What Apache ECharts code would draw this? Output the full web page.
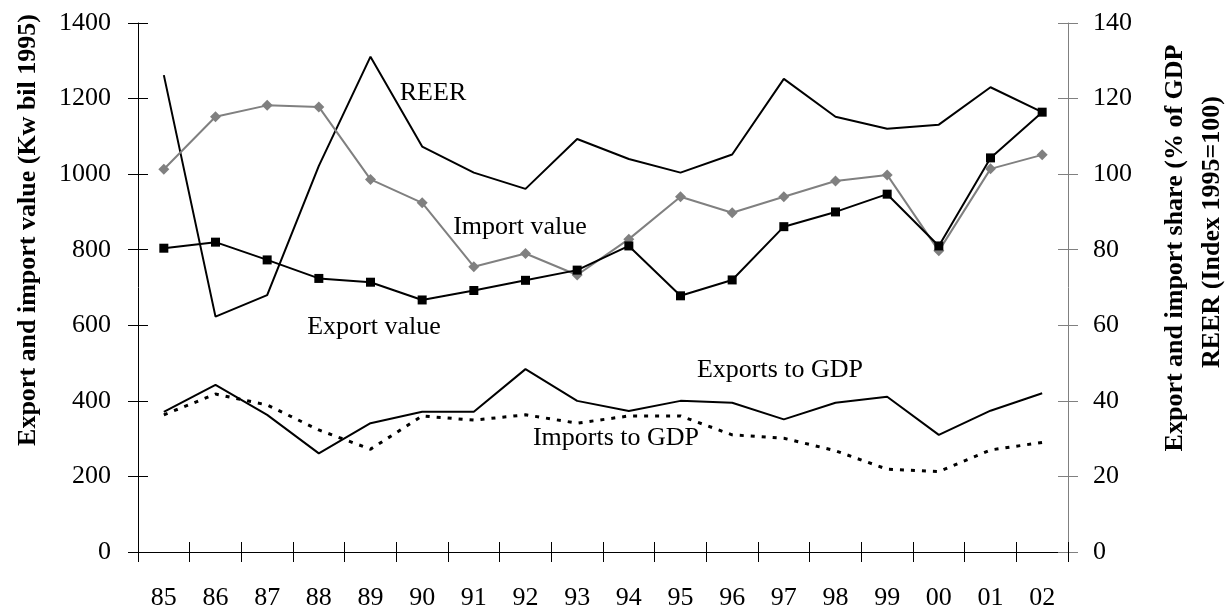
<!DOCTYPE html>
<html>
<head>
<meta charset="utf-8">
<script src="https://cdn.jsdelivr.net/npm/echarts@6/dist/echarts.min.js"></script>
<style>html,body{margin:0;padding:0;background:#fff;}#c{width:1232px;height:615px;}</style>
</head>
<body>
<div id="c"></div>
<script>
var categories = ['85','86','87','88','89','90','91','92','93','94','95','96','97','98','99','00','01','02'];
var reer = [126.2, 62.3, 68, 102.2, 131.1, 107.3, 100.4, 96.1, 109.3, 104, 100.4, 105.2, 125.2, 115.2, 112, 113.1, 123, 116.4];
var importValue = [1013, 1152, 1182, 1178, 986, 924, 755, 790, 733, 828, 940, 898, 940, 982, 998, 797, 1014, 1051];
var exportValue = [804, 820, 773, 724, 714, 667, 692, 719, 746, 810, 678, 720, 861, 900, 947, 810, 1043, 1164];
var exportsToGDP = [37.1, 44.2, 36.3, 26.1, 34.1, 37.1, 37.1, 48.4, 40, 37.3, 40, 39.5, 35.1, 39.5, 41.1, 31, 37.4, 42];
var importsToGDP = [36.3, 41.8, 38.9, 32.3, 27.2, 36, 34.9, 36.3, 34.1, 36, 36, 31, 30.1, 26.8, 21.9, 21.3, 27, 29];
var leftTitle = 'Export and import value (Kw bil 1995)';
var rightTitle1 = 'Export and import share (% of GDP';
var rightTitle2 = 'REER (Index 1995=100)';

var FONT = 'Liberation Serif';
var chart = echarts.init(document.getElementById('c'), null, {renderer: 'canvas'});
function txt(t, x, y, opts) {
  opts = opts || {};
  return {
    type: 'text', x: x, y: y, rotation: opts.rot || 0, z: 100,
    style: {
      text: t, fill: '#000', font: (opts.bold ? 'bold ' : '') + '26px "' + FONT + '"',
      textAlign: 'center', textVerticalAlign: 'middle'
    }
  };
}
function plain(v) { return String(v); }
var option = {
  animation: false,
  backgroundColor: '#fff',
  grid: {left: 138, right: 164, top: 23, bottom: 63, containLabel: false},
  xAxis: [{
    type: 'category', data: categories, boundaryGap: true, position: 'bottom',
    axisLine: {show: true, lineStyle: {color: '#000', width: 1}},
    axisTick: {show: true, inside: false, length: 10, lineStyle: {color: '#000'}},
    axisLabel: {fontFamily: FONT, fontSize: 26, color: '#000', margin: 33},
    splitLine: {show: false}
  }, {
    type: 'category', data: categories, boundaryGap: true, position: 'bottom',
    axisLine: {show: false},
    axisTick: {show: true, inside: true, length: 10, lineStyle: {color: '#000'}},
    axisLabel: {show: false}, splitLine: {show: false}
  }],
  yAxis: [{
    type: 'value', min: 0, max: 1400, interval: 200, position: 'left',
    axisLine: {show: true, lineStyle: {color: '#000', width: 1}},
    axisTick: {show: true, inside: false, length: 10, lineStyle: {color: '#000'}},
    axisLabel: {fontFamily: FONT, fontSize: 26, color: '#000', margin: 27, formatter: plain},
    splitLine: {show: false}
  }, {
    type: 'value', min: 0, max: 140, interval: 20, position: 'right',
    axisLine: {show: true, lineStyle: {color: '#808080', width: 1}},
    axisTick: {show: true, inside: false, length: 10, lineStyle: {color: '#808080'}},
    axisLabel: {fontFamily: FONT, fontSize: 26, color: '#000', margin: 25, formatter: plain},
    splitLine: {show: false}
  }, {
    type: 'value', min: 0, max: 1400, interval: 200, position: 'left',
    axisLine: {show: false},
    axisTick: {show: true, inside: true, length: 10, lineStyle: {color: '#000'}},
    axisLabel: {show: false}, splitLine: {show: false}
  }, {
    type: 'value', min: 0, max: 140, interval: 20, position: 'right',
    axisLine: {show: false},
    axisTick: {show: true, inside: true, length: 10, lineStyle: {color: '#808080'}},
    axisLabel: {show: false}, splitLine: {show: false}
  }],
  series: [{
    name: 'Imports to GDP', type: 'line', yAxisIndex: 1, data: importsToGDP,
    symbol: 'none', lineStyle: {color: '#000', width: 3, type: [4, 7], cap: 'butt'}
  }, {
    name: 'Exports to GDP', type: 'line', yAxisIndex: 1, data: exportsToGDP,
    symbol: 'none', lineStyle: {color: '#000', width: 2}
  }, {
    name: 'REER', type: 'line', yAxisIndex: 1, data: reer,
    symbol: 'none', lineStyle: {color: '#000', width: 2}
  }, {
    name: 'Import value', type: 'line', yAxisIndex: 0, data: importValue,
    symbol: 'diamond', symbolSize: 11, showAllSymbol: true,
    itemStyle: {color: '#808080'}, lineStyle: {color: '#808080', width: 2}
  }, {
    name: 'Export value', type: 'line', yAxisIndex: 0, data: exportValue,
    symbol: 'rect', symbolSize: 9, showAllSymbol: true,
    itemStyle: {color: '#000'}, lineStyle: {color: '#000', width: 2}
  }],
  graphic: [
    txt('REER', 433, 93),
    txt('Import value', 520, 227),
    txt('Export value', 374, 327),
    txt('Exports to GDP', 780, 370),
    txt('Imports to GDP', 616, 438),
    txt(leftTitle, 28, 230, {bold: true, rot: Math.PI / 2}),
    txt(rightTitle1, 1175, 248, {bold: true, rot: Math.PI / 2}),
    txt(rightTitle2, 1212, 232, {bold: true, rot: Math.PI / 2})
  ]
};
chart.setOption(option);
</script>
</body>
</html>
